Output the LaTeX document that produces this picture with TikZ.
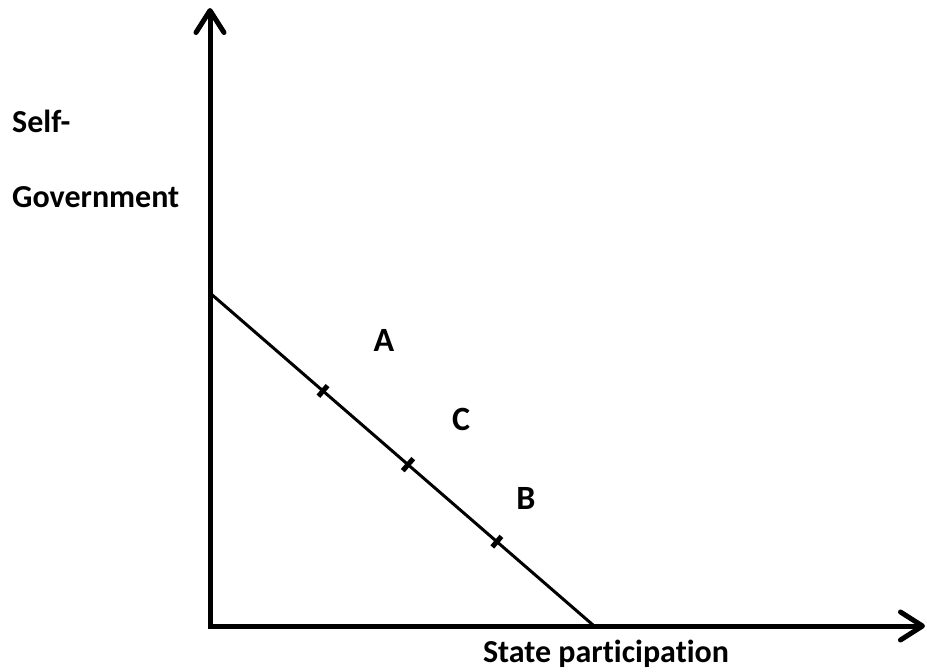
\documentclass[tikz,border=0pt]{standalone}
\usepackage{fontspec}
\setmainfont[Ligatures=NoCommon]{Carlito}
\usetikzlibrary{arrows.meta,calc}
\tikzset{
  axis/.style={line width=5pt, line join=miter,
    {Straight Barb[length=22pt,width=28pt,line cap=round,line join=round]}-{Straight Barb[length=22pt,width=28pt,line cap=round,line join=round]}},
  frontier/.style={line width=3pt},
  tickmark/.style={line width=5pt},
  axlabel/.style={inner sep=0pt, font=\fontsize{32}{38}\selectfont\bfseries},
  zonelabel/.style={inner sep=0pt, font=\fontsize{34}{40}\selectfont\bfseries}
}
\begin{document}
\begin{tikzpicture}[x=1pt,y=-1pt]
\useasboundingbox[fill=white] (0,0) rectangle (927,672);
\coordinate (ytop) at (210,8);
\coordinate (origin) at (210,626);
\coordinate (xend) at (925,626);
\coordinate (p) at (210,293);
\coordinate (q) at (593,625);
\draw[axis] (ytop) -- (origin) -- (xend);
\draw[frontier] (p) -- (q);
\path (p) -- (q) coordinate[pos=0.295] (t1) coordinate[pos=0.517] (t2) coordinate[pos=0.749] (t3);
\foreach \t/\l in {t1/7pt,t2/8pt,t3/7pt}{
  \draw[tickmark] ($(\t)!\l!90:(q)$) -- ($(\t)!\l!-90:(q)$);
}
\node[axlabel, anchor=base west] (self) at (12,132) {Self-};
\node[axlabel, anchor=base west] (gov) at (12,207) {Government};
\node[axlabel, anchor=base] (state) at (606,662) {State participation};
\node[zonelabel] (A) at (384,340) {A};
\node[zonelabel] (C) at (461,419) {C};
\node[zonelabel] (B) at (526,498) {B};
\end{tikzpicture}
\end{document}
